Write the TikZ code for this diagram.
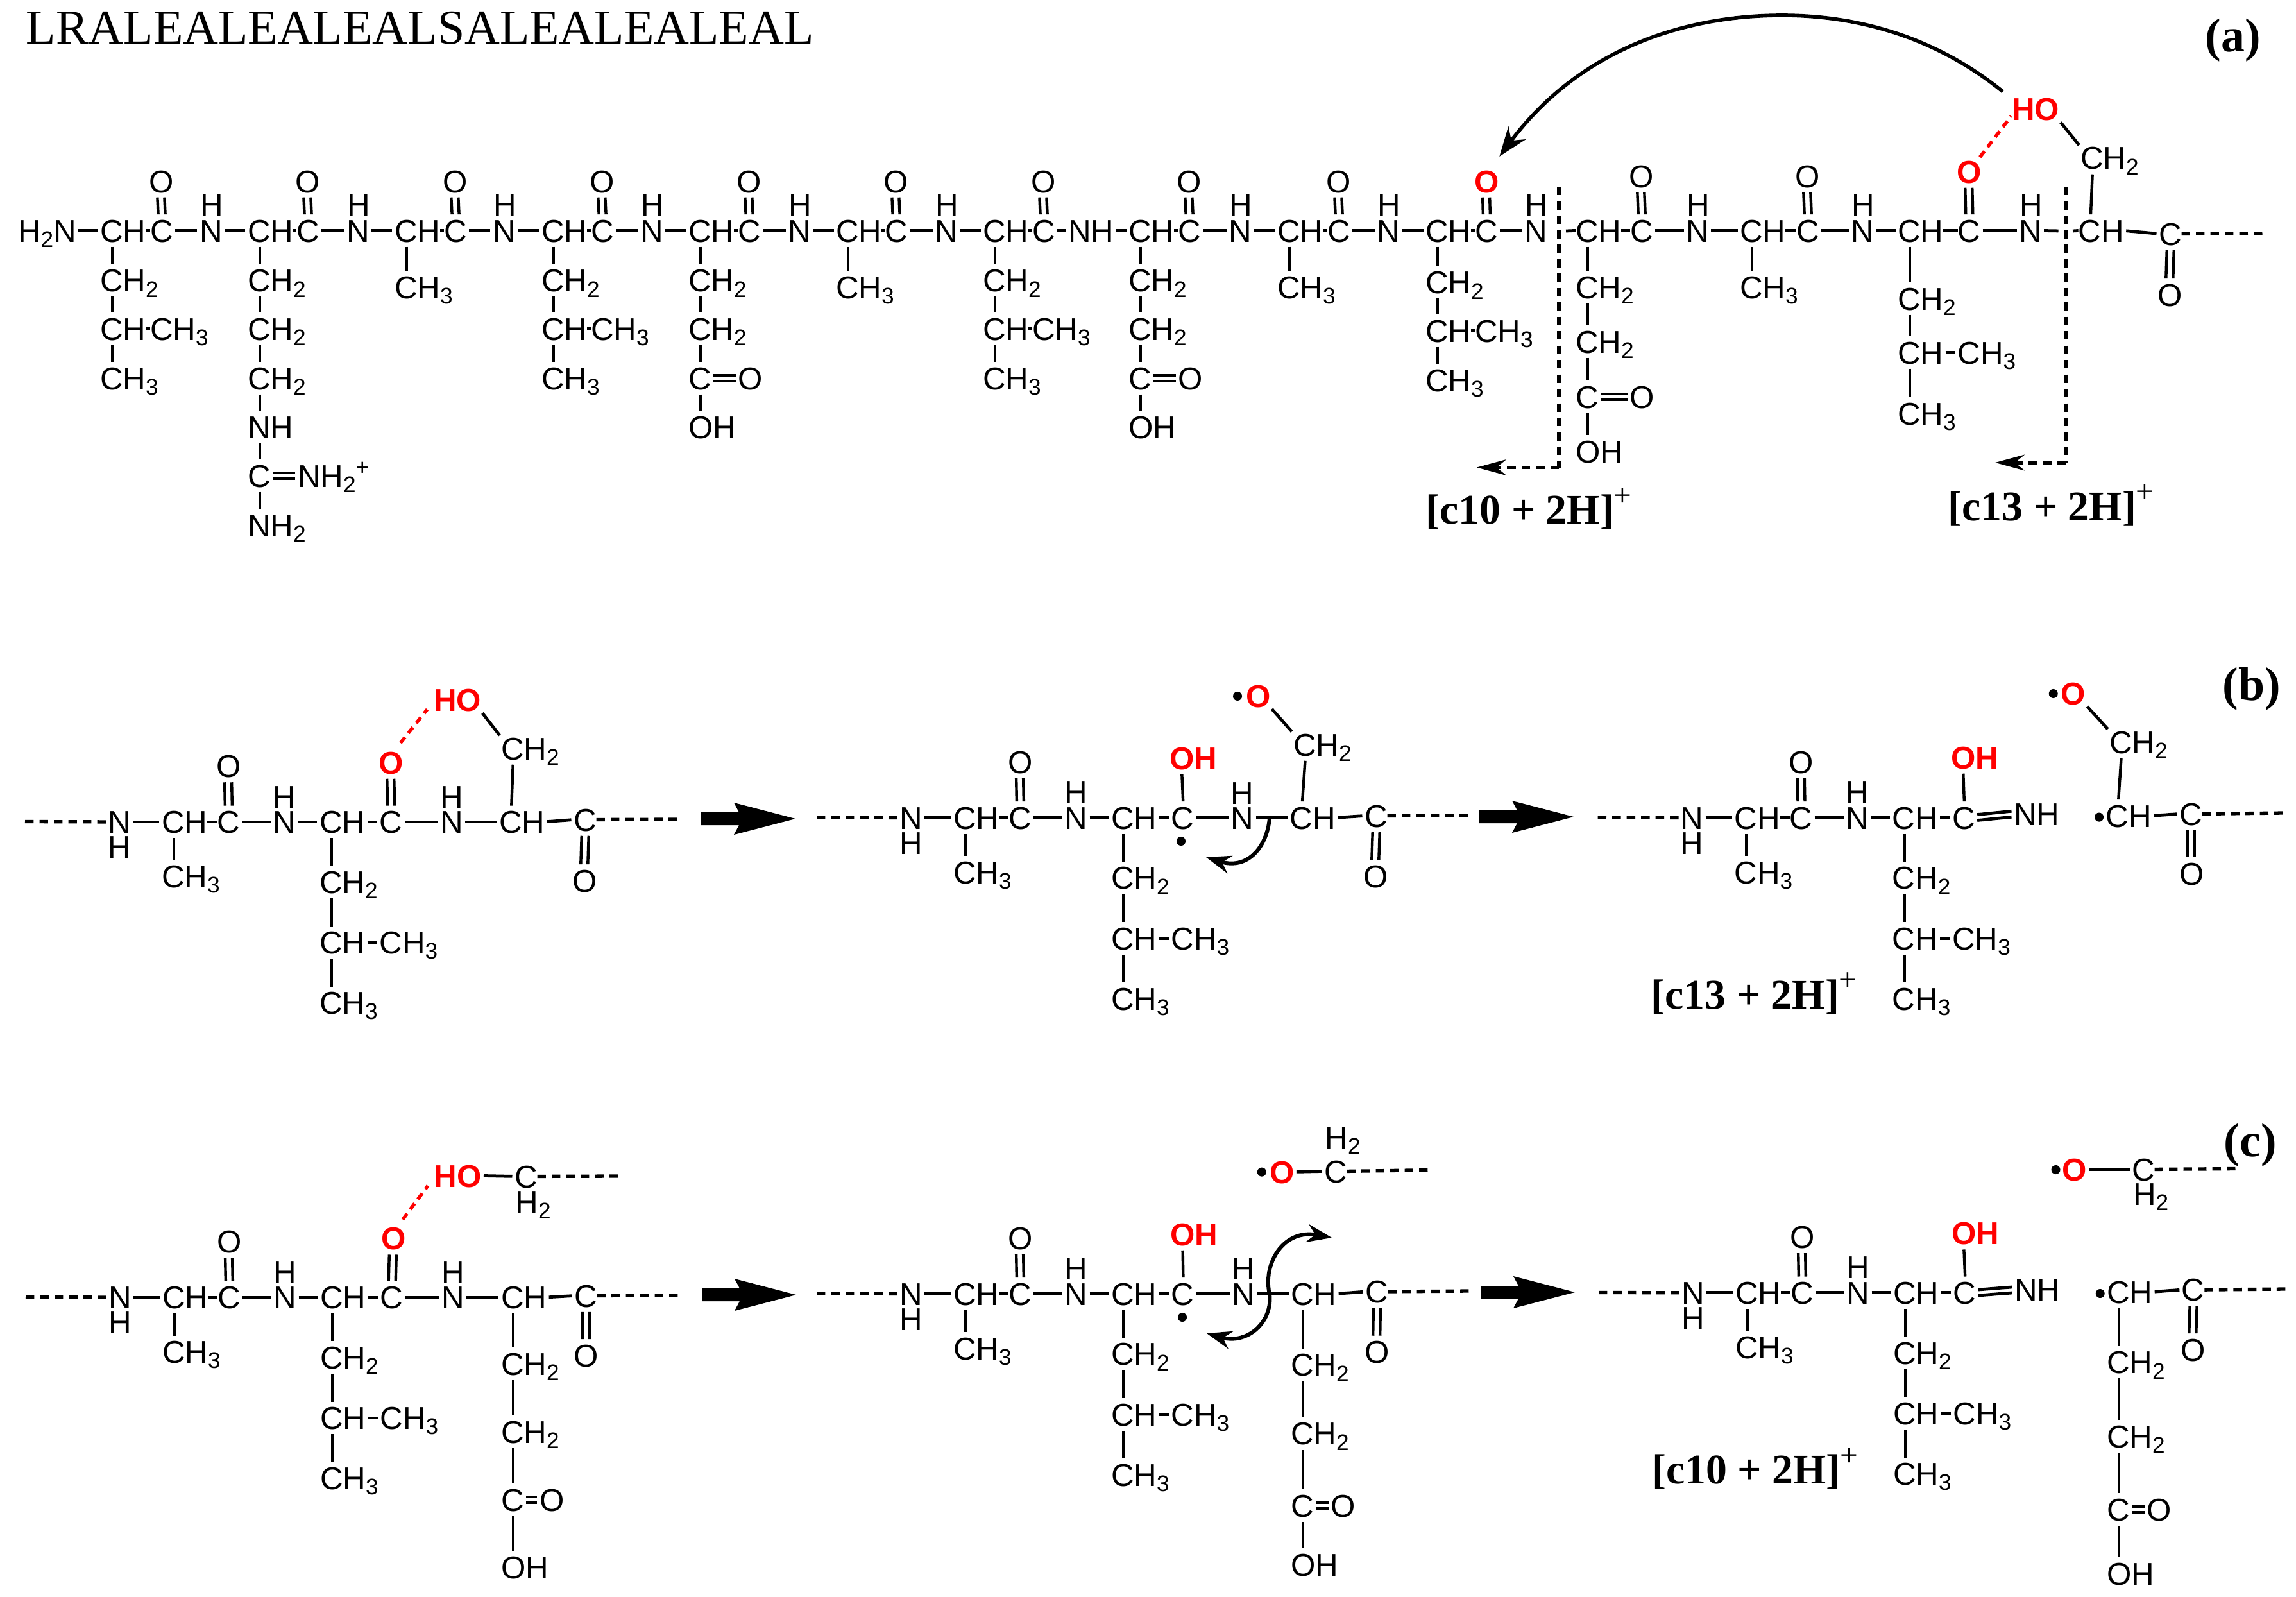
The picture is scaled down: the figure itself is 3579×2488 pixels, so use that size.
\documentclass[tikz,border=0pt]{standalone}
\usepackage{fontspec}
\setmainfont{Liberation Sans}
\newfontfamily\timesf{Liberation Serif}
\usetikzlibrary{calc,arrows.meta}
\definecolor{hbred}{RGB}{255,0,0}
\tikzset{
 x=0.01cm,y=-0.01cm,
 atm/.style={anchor=base west,inner sep=0pt,outer sep=0pt,text height=10pt,text depth=0pt,font=\fontsize{14}{16}\selectfont},
 redatm/.style={atm,text=hbred,font=\fontsize{14}{16}\selectfont\bfseries},
 bond/.style={line width=1.35pt,shorten <=1pt,shorten >=1pt},
 dotbond/.style={line width=1.35pt},
 vbond/.style={line width=1.25pt,shorten <=2.2pt,shorten >=2.2pt},
 dsh/.style={line width=1.5pt,dash pattern=on 3.8pt off 2.6pt},
 hbond/.style={line width=1.5pt,draw=hbred,dash pattern=on 3.2pt off 2.4pt},
 curv/.style={line width=1.7pt},
 radical/.style={circle,fill=black,inner sep=0pt,minimum size=4pt},
 boldlabel/.style={anchor=base west,inner sep=0pt,font=\timesf\fontsize{18.7}{20}\selectfont\bfseries},
 panel/.style={anchor=base west,inner sep=0pt,font=\timesf\fontsize{21}{22}\selectfont\bfseries},
}
\newcommand\sbs[1]{\raisebox{-2.4pt}{\fontsize{10}{10}\selectfont #1}}
\newcommand\plusup{\raisebox{8pt}{\fontsize{14}{14}\selectfont\mdseries +}}
\newcommand\At[4]{\node[atm] (#1) at ({#2-3},{#3}) {#4};}
\newcommand\Rt[4]{\node[redatm] (#1) at ({#2-3},{#3}) {#4};}
\newcommand\Bd[2]{\draw[bond] (#1.east) -- (#2.west);}
\newcommand\Dt[2]{\draw[dotbond] (#1.east) -- (#2.west);}
\newcommand\Vb[2]{\draw[vbond] ($(#1.south west)+(19,0)$) -- ($(#2.north west)+(19,0)$);}
\newcommand\VD[2]{\draw[vbond] ($(#1.south west)+(13,0)$) -- ($(#2.north west)+(13,0)$);
 \draw[vbond] ($(#1.south west)+(24,0)$) -- ($(#2.north west)+(24,0)$);}
\newcommand\HD[2]{\draw[bond] ($(#1.east)+(0,-4.5)$) -- ($(#2.west)+(0,-4.5)$);
 \draw[bond] ($(#1.east)+(0,4.5)$) -- ($(#2.west)+(0,4.5)$);}
\newcommand\BigAr[2]{\fill (#1,{#2-10}) -- ({#1+59},{#2-10}) -- ({#1+51},{#2-25}) -- ({#1+147},{#2}) -- ({#1+51},{#2+25}) -- ({#1+59},{#2+10}) -- (#1,{#2+10}) -- cycle;}
% backbone unit of row (a)
\newcommand\Res[4]{\At{#1h}{#2}{377}{CH}\At{#1c}{#3}{377}{C}\At{#1o}{#3-2}{#4}{O}\Dt{#1h}{#1c}\VD{#1o}{#1c}}
\newcommand\Nn[2]{\At{#1}{#2}{377}{N}\At{#1H}{#2+1}{337}{H}}
\newcommand\AlaS[2]{\At{#1m}{#2}{465}{CH\sbs{3}}\Vb{#1h}{#1m}}
\newcommand\LeuS[4]{\At{#1a}{#2}{454.6+#3}{CH\sbs{2}}\At{#1b}{#2}{530+#3}{CH}\At{#1d}{#4}{530+#3}{CH\sbs{3}}\At{#1e}{#2}{607+#3}{CH\sbs{3}}\Vb{#1h}{#1a}\Vb{#1a}{#1b}\Dt{#1b}{#1d}\Vb{#1b}{#1e}}
\newcommand\GluS[2]{\At{#1a}{#2}{454.6}{CH\sbs{2}}\At{#1b}{#2}{530}{CH\sbs{2}}\At{#1f}{#2}{607}{C}\At{#1g}{#2+77}{607}{O}\At{#1i}{#2}{683}{OH}\Vb{#1h}{#1a}\Vb{#1a}{#1b}\Vb{#1b}{#1f}\HD{#1f}{#1g}\Vb{#1f}{#1i}}
% repeated fragment of rows (b) and (c): --NH-CH(CH3)-CO-NH-CH(Leu)-C
\newcommand\Frag[3]{%
 \coordinate (#1s) at ({#2-132},{#3-18});
 \At{#1n}{#2}{#3}{N}\At{#1nH}{#2}{#3+39}{H}
 \At{#1h}{#2+84}{#3}{CH}\At{#1m}{#2+84}{#3+85}{CH\sbs{3}}
 \At{#1c}{#2+170}{#3}{C}\At{#1o}{#2+169}{#3-87}{O}
 \At{#1p}{#2+257.5}{#3}{N}\At{#1pH}{#2+257.5}{#3-39.5}{H}
 \At{#1k}{#2+330}{#3}{CH}\At{#1l}{#2+423.5}{#3}{C}
 \At{#1a}{#2+330}{#3+93.7}{CH\sbs{2}}\At{#1b}{#2+330}{#3+188}{CH}
 \At{#1d}{#2+423.5}{#3+188}{CH\sbs{3}}\At{#1e}{#2+330}{#3+282}{CH\sbs{3}}
 \draw[dsh] (#1s) -- (#1n.west);
 \Bd{#1n}{#1h}\Dt{#1h}{#1c}\Bd{#1c}{#1p}\Bd{#1p}{#1k}\Bd{#1k}{#1l}
 \VD{#1o}{#1c}\Vb{#1h}{#1m}\Vb{#1k}{#1a}\Vb{#1a}{#1b}\Bd{#1b}{#1d}\Vb{#1b}{#1e}}
% long side chain of the glutamate
\newcommand\GluC[7]{\At{#1a}{#2}{#3}{CH\sbs{2}}\At{#1b}{#2}{#4}{CH\sbs{2}}\At{#1f}{#2}{#5}{C}\At{#1g}{#6}{#5}{O}\At{#1i}{#2}{#7}{OH}\Vb{#1h}{#1a}\Vb{#1a}{#1b}\Vb{#1b}{#1f}\HD{#1f}{#1g}\Vb{#1f}{#1i}}
\begin{document}
\begin{tikzpicture}
\path[use as bounding box,fill=white] (0,0) rectangle (3579,2488);
\node[anchor=base west,inner sep=0pt,font=\timesf\fontsize{21.6}{24}\selectfont] (title) at (40,68.5) {LRALEALEALEALSALEALEALEAL};
\node[panel] (pa) at (3437,81) {(a)};
\node[panel] (pb) at (3464,1091) {(b)};
\node[panel] (pc) at (3466,1802) {(c)};

%% ---------- row (a) ----------
\At{nterm}{31}{377}{H\sbs{2}N}
\Res{r1}{159}{237}{300}\Nn{n1}{314}
\Res{r2}{389}{465}{300}\Nn{n2}{543}
\Res{r3}{618}{695}{300}\Nn{n3}{771}
\Res{r4}{847}{924}{300}\Nn{n4}{1001}
\Res{r5}{1076}{1153}{300}\Nn{n5}{1231}
\Res{r6}{1306}{1382}{300}\Nn{n6}{1460}
\Res{r7}{1535}{1612}{300}\At{n7}{1668}{377}{NH}
\Res{r8}{1762}{1839}{300}\Nn{n8}{1918}
\Res{r9}{1994}{2072}{300}\Nn{n9}{2149}
% residue 10, red carbonyl oxygen
\At{r10h}{2225}{377}{CH}\At{r10c}{2302}{377}{C}\Rt{r10o}{2301}{300}{O}\Dt{r10h}{r10c}\VD{r10o}{r10c}
\Nn{n10}{2379}
\Res{r11}{2459}{2544}{292}\Nn{n11}{2631}
\Res{r12}{2715}{2803}{292}\Nn{n12}{2888.5}
\At{r13h}{2961}{377}{CH}\At{r13c}{3054.5}{377}{C}\Rt{r13o}{3053}{285}{O}\Dt{r13h}{r13c}\VD{r13o}{r13c}
\Nn{n13}{3150}
\At{r14h}{3242.6}{377}{CH}\At{r14c}{3368}{382}{C}\At{r14o}{3366}{477}{O}
\At{r14a}{3246}{264}{CH\sbs{2}}\Rt{r14ho}{3139}{188}{HO}
\Bd{nterm}{r1h}\Bd{r1c}{n1}\Bd{n1}{r2h}\Bd{r2c}{n2}\Bd{n2}{r3h}\Bd{r3c}{n3}\Bd{n3}{r4h}\Bd{r4c}{n4}\Bd{n4}{r5h}\Bd{r5c}{n5}\Bd{n5}{r6h}\Bd{r6c}{n6}\Bd{n6}{r7h}\Bd{r7c}{n7}\Bd{n7}{r8h}\Bd{r8c}{n8}\Bd{n8}{r9h}\Bd{r9c}{n9}\Bd{n9}{r10h}\Bd{r10c}{n10}
\Bd{r11c}{n11}\Bd{n11}{r12h}\Bd{r12c}{n12}\Bd{n12}{r13h}\Bd{r13c}{n13}\Bd{r14h}{r14c}
% side chains
\LeuS{r1}{159}{0}{237}
\At{r2a}{389}{454.6}{CH\sbs{2}}\At{r2b}{389}{530}{CH\sbs{2}}\At{r2d}{389}{607}{CH\sbs{2}}\At{r2e}{389}{683}{NH}
\At{r2f}{389}{759}{C}\At{r2g}{467}{759}{NH\sbs{2}\raisebox{5.4pt}{\fontsize{10}{10}\selectfont +}}\At{r2i}{389}{836}{NH\sbs{2}}
\Vb{r2h}{r2a}\Vb{r2a}{r2b}\Vb{r2b}{r2d}\Vb{r2d}{r2e}\Vb{r2e}{r2f}\Vb{r2f}{r2i}
\HD{r2f}{r2g}
\AlaS{r3}{618}
\LeuS{r4}{847}{0}{924}
\GluS{r5}{1076}
\AlaS{r6}{1306}
\LeuS{r7}{1535}{0}{1612}
\GluS{r8}{1762}
\AlaS{r9}{1994}
\LeuS{r10}{2225}{3}{2302}
\GluC{r11}{2459}{465}{550}{636}{2543}{721}
\AlaS{r12}{2715}
% leucine 13 with its longer bonds
\At{r13a}{2961}{483}{CH\sbs{2}}\At{r13b}{2961}{567}{CH}\At{r13d}{3054.5}{567}{CH\sbs{3}}\At{r13e}{2961}{662}{CH\sbs{3}}
\Vb{r13h}{r13a}\Vb{r13a}{r13b}\Bd{r13b}{r13d}\Vb{r13b}{r13e}
% serine
\VD{r14c}{r14o}
\Vb{r14a}{r14h}
\draw[bond] (r14ho.south east) -- (r14a.north west);
\coordinate (aend) at (3529,364);
\draw[dsh] (r14c.east) -- (aend);
% cuts and their arrows
\coordinate (cutAt) at (2430,291);\coordinate (cutAb) at (2430,728.5);\coordinate (cutAtip) at (2302,728.5);
\coordinate (cutBt) at (3220,291);\coordinate (cutBb) at (3220,721);\coordinate (cutBtip) at (3110,721);
\draw[dsh] (cutAt) -- (cutAb);\draw[dsh,-{Stealth[length=13pt,width=7pt]}] (cutAb) -- (cutAtip);
\draw[dsh] (cutBt) -- (cutBb);\draw[dsh,-{Stealth[length=13pt,width=7pt]}] (cutBb) -- (cutBtip);
\coordinate (cutAs) at (2441,360);\draw[dotbond] (cutAs) -- (r11h.west);
\coordinate (cutBs) at (3212,360);\draw[bond] (n13.east) -- (cutBs);
\coordinate (cutBd) at (3231,360);\draw[dotbond] (cutBd) -- (r14h.west);
\node[boldlabel] (c10a) at (2222,816.6) {[c10 + 2H]\plusup};
\node[boldlabel] (c13a) at (3036,811) {[c13 + 2H]\plusup};
% hydrogen bond and long curved arrow
\draw[hbond] ($(r13o.north east)+(-2,-5)$) -- ($(r14ho.south west)+(-1,-7)$);
\draw[line width=1.6pt,-{Stealth[length=13pt,width=9.5pt]}] ($(r14ho.north west)+(-14,-10)$) .. controls (3020,60) and (2900,24) .. (2778,24) .. controls (2620,24) and (2460,80) .. ($(r10o.north east)+(1,-21)$);

%% ---------- row (b) ----------
\Frag{ba}{171}{1298.5}
\Rt{bao}{593}{1206}{O}\VD{bao}{bal}
\At{bq}{689}{1298.5}{N}\At{bqH}{689}{1259}{H}\At{br}{781}{1298.5}{CH}\At{bs}{897}{1295}{C}\At{bt}{895}{1390}{O}
\At{bu}{784}{1184}{CH\sbs{2}}\Rt{bv}{679}{1108.6}{HO}
\Bd{bal}{bq}\Bd{bq}{br}\Bd{br}{bs}\VD{bs}{bt}\Vb{bu}{br}
\draw[bond] (bv.south east) -- (bu.north west);
\draw[hbond] ($(bao.north east)+(-4,-13)$) -- ($(bv.south west)+(-10,-3)$);
\coordinate (bend) at (1058,1277);\draw[dsh] (bs.east) -- (bend);
\BigAr{1093}{1276}

\Frag{bb}{1405}{1292}
\Rt{bbO}{1826}{1199}{OH}\Vb{bbO}{bbl}
\At{bbq}{1921.7}{1292}{N}\At{bbqH}{1921.7}{1253}{H}\At{bbr}{2013.5}{1292}{CH}\At{bbs}{2130}{1289}{C}\At{bbt}{2128}{1383.5}{O}
\At{bbu}{2019}{1178}{CH\sbs{2}}\Rt{bbv}{1945}{1102.4}{O}
\node[radical] (bbd1) at (1929,1085) {};\node[radical] (bbd2) at (1841,1311) {};
\Bd{bbl}{bbq}\Bd{bbq}{bbr}\Bd{bbr}{bbs}\VD{bbs}{bbt}\Vb{bbu}{bbr}
\draw[bond] (bbv.south east) -- (bbu.north west);
\coordinate (bbend) at (2290,1271);\draw[dsh] (bbs.east) -- (bbend);
\coordinate (bbc) at (1979,1275);
\draw[curv,-{Stealth[length=11pt,width=8pt]}] (bbc) .. controls (1975,1320) and (1945,1356) .. (1880,1336);
\BigAr{2306}{1273}

\Frag{bc}{2622.6}{1292}
\Rt{bcO}{3044}{1198}{OH}\Vb{bcO}{bcl}
\At{bcq}{3142}{1286}{NH}\HD{bcl}{bcq}
\At{bcr}{3285.7}{1289}{CH}\At{bcs}{3400}{1286}{C}\At{bct}{3400}{1379}{O}
\At{bcu}{3291}{1174}{CH\sbs{2}}\Rt{bcv}{3215.8}{1098.7}{O}
\node[radical] (bcd1) at (3200.7,1081) {};\node[radical] (bcd2) at (3272,1273.6) {};
\Bd{bcr}{bcs}\VD{bcs}{bct}\Vb{bcu}{bcr}
\draw[bond] (bcv.south east) -- (bcu.north west);
\coordinate (bcend) at (3562,1267);\draw[dsh] (bcs.east) -- (bcend);
\node[boldlabel] (c13b) at (2573,1572) {[c13 + 2H]\plusup};

%% ---------- row (c) ----------
\Frag{ca}{172}{2039.5}
\Rt{cao}{597}{1947.7}{O}\VD{cao}{cal}
\At{cq}{691}{2039.5}{N}\At{cqH}{691}{2000}{H}\At{crh}{784}{2039.5}{CH}\At{cs}{898}{2037}{C}\At{ct}{897.7}{2130}{O}
\Bd{cal}{cq}\Bd{cq}{crh}\Bd{crh}{cs}\VD{cs}{ct}
\GluC{cr}{784}{2143}{2249}{2355}{844}{2460}
\Rt{cv}{679.6}{1850}{HO}\At{cu}{805}{1851}{C}\At{cuH}{806.6}{1891}{H\sbs{2}}
\Bd{cv}{cu}
\coordinate (cuend) at (966,1833);\draw[dsh] (cu.east) -- (cuend);
\draw[hbond] ($(cao.north east)+(-4.5,-12)$) -- ($(cv.south west)+(-9.6,-2)$);
\coordinate (cend) at (1060,2019);\draw[dsh] (cs.east) -- (cend);
\BigAr{1094}{2018}

\Frag{cb}{1405}{2034}
\Rt{cbO}{1827.5}{1941}{OH}\Vb{cbO}{cbl}
\At{cbq}{1923}{2034}{N}\At{cbqH}{1923}{1994}{H}\At{cbrh}{2015}{2034}{CH}\At{cbs}{2131}{2030.6}{C}\At{cbt}{2130}{2124.6}{O}
\Bd{cbl}{cbq}\Bd{cbq}{cbrh}\Bd{cbrh}{cbs}\VD{cbs}{cbt}
\GluC{cbr}{2015}{2144.7}{2251.8}{2364}{2077.8}{2456}
\node[radical] (cbd1) at (1966.8,1826.6) {};\node[radical] (cbd2) at (1843,2053) {};
\Rt{cbv}{1982}{1844}{O}\At{cbu}{2067}{1843}{C}\At{cbuH}{2068.6}{1790.5}{H\sbs{2}}
\Bd{cbv}{cbu}
\coordinate (cbuend) at (2227,1823.6);\draw[dsh] (cbu.east) -- (cbuend);
\coordinate (cbend) at (2290.6,2012);\draw[dsh] (cbs.east) -- (cbend);
\coordinate (cbtop) at (2076,1929);\coordinate (cbmid) at (1979,2017);\coordinate (cbbot) at (1881,2078);
\draw[curv,{Stealth[length=11pt,width=8pt]}-{Stealth[length=11pt,width=8pt]}] (cbtop) .. controls (2000,1915) and (1968,1970) .. (cbmid) .. controls (1984,2060) and (1945,2096) .. (cbbot);
\BigAr{2308}{2014}

\Frag{cc}{2624}{2032.4}
\Rt{ccO}{3045}{1939.7}{OH}\Vb{ccO}{ccl}
\At{ccq}{3143}{2027.7}{NH}\HD{ccl}{ccq}
\At{ccrh}{3287}{2031}{CH}\At{ccs}{3403.8}{2027.7}{C}\At{cct}{3402}{2121}{O}
\Bd{ccrh}{ccs}\VD{ccs}{cct}
\GluC{ccr}{3287}{2140.6}{2256}{2370}{3349.6}{2470}
\node[radical] (ccd1) at (3204.5,1823) {};\node[radical] (ccd2) at (3273.7,2016) {};
\Rt{ccv}{3217}{1840}{O}\At{ccu}{3326}{1840}{C}\At{ccuH}{3328}{1878}{H\sbs{2}}
\Bd{ccv}{ccu}
\coordinate (ccuend) at (3488,1821.5);\draw[dsh] (ccu.east) -- (ccuend);
\coordinate (ccend) at (3564,2009);\draw[dsh] (ccs.east) -- (ccend);
\node[boldlabel] (c10c) at (2574.4,2312.4) {[c10 + 2H]\plusup};
\end{tikzpicture}
\end{document}
